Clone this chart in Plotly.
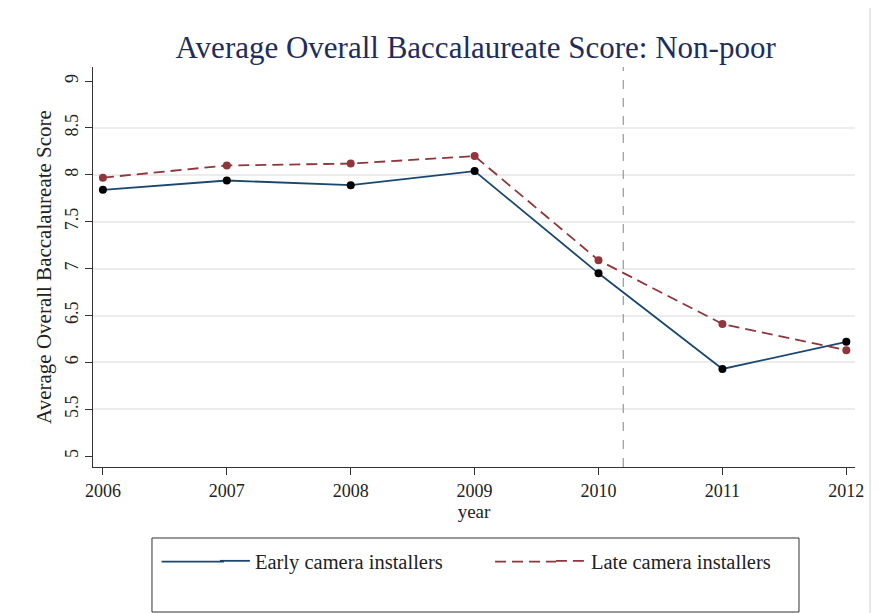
import plotly.graph_objects as go

years = [2006, 2007, 2008, 2009, 2010, 2011, 2012]
early = [7.84, 7.94, 7.89, 8.04, 6.95, 5.93, 6.22]
late = [7.97, 8.10, 8.12, 8.20, 7.09, 6.41, 6.13]
ytick_vals = [5, 5.5, 6, 6.5, 7, 7.5, 8, 8.5, 9]
grid_vals = [5.5, 6, 6.5, 7, 7.5, 8, 8.5]
cutoff_year = 2010.2

serif = "Liberation Serif, Times New Roman, serif"
navy = "#1a476f"
maroon = "#90353b"
dash_style = "11px,6px"

fig = go.Figure()

# invisible helper on a second y axis, only to carry the inner gridlines
fig.add_trace(go.Scatter(x=[years[0]], y=[early[0]], yaxis="y2", mode="markers",
                         marker=dict(opacity=0), showlegend=False, hoverinfo="skip"))

fig.add_trace(go.Scatter(x=years, y=early, mode="lines+markers", showlegend=False,
                         line=dict(color=navy, width=1.8),
                         marker=dict(color="black", size=8)))
fig.add_trace(go.Scatter(x=years, y=late, mode="lines+markers", showlegend=False,
                         line=dict(color=maroon, width=1.8, dash=dash_style),
                         marker=dict(color=maroon, size=8)))

# legend entries show only the line style
fig.add_trace(go.Scatter(x=[None], y=[None], mode="lines", name="Early camera installers",
                         line=dict(color=navy, width=1.8), legendwidth=291))
fig.add_trace(go.Scatter(x=[None], y=[None], mode="lines", name="Late camera installers",
                         line=dict(color=maroon, width=1.8, dash=dash_style)))

fig.add_vline(x=cutoff_year, line=dict(color="#a0a0a0", width=1.3, dash="dash"))

# outer frame (light gray edge) and legend box
fig.add_shape(type="rect", xref="paper", yref="paper",
              x0=-0.1155, x1=1.02, y0=-0.6, y1=1.158,
              line=dict(color="#e4e4e4", width=2), layer="below")
fig.add_shape(type="rect", xref="paper", yref="paper",
              x0=0.0774, x1=0.9265, y0=-0.3625, y1=-0.1775,
              line=dict(color="#333333", width=1))
# longer legend keys, like the original
fig.add_shape(type="line", xref="paper", yref="paper",
              x0=0.09, x1=0.172, y0=-0.2365, y1=-0.2365,
              line=dict(color=navy, width=1.8))
fig.add_shape(type="line", xref="paper", yref="paper",
              x0=0.5276, x1=0.6076, y0=-0.2365, y1=-0.2365,
              line=dict(color=maroon, width=1.8, dash=dash_style))

# page body adds an 8px offset, so margins are shifted to compensate
fig.update_layout(
    width=879, height=613,
    margin=dict(l=85, r=32, t=59, b=154),
    paper_bgcolor="white", plot_bgcolor="white",
    title=dict(text="Average Overall Baccalaureate Score: Non-poor",
               x=0.532, xanchor="center", y=0.936, yanchor="middle",
               font=dict(family=serif, size=31, color="#1e2d5a")),
    font=dict(family=serif, size=18, color="#222222"),
    xaxis=dict(range=[2005.92, 2012.07], tickvals=years,
               showgrid=False, zeroline=False,
               showline=True, linecolor="#333333", linewidth=1.2,
               ticks="outside", ticklen=7, tickcolor="#333333",
               tickfont=dict(size=18),
               title=dict(text="year", font=dict(size=19), standoff=0)),
    yaxis=dict(range=[4.885, 9.15], tickvals=ytick_vals,
               showgrid=False, zeroline=False,
               showline=True, linecolor="#333333", linewidth=1.2,
               ticks="outside", ticklen=7, tickcolor="#333333",
               tickangle=-90, tickfont=dict(size=18),
               title=dict(text="Average Overall Baccalaureate Score",
                          font=dict(size=21), standoff=4)),
    yaxis2=dict(range=[4.885, 9.15], overlaying="y", tickvals=grid_vals,
                showgrid=True, gridcolor="#ececec", gridwidth=1.5,
                showticklabels=False, zeroline=False, showline=False),
    legend=dict(orientation="h", x=0.16, xanchor="left",
                y=-0.185, yanchor="top", bgcolor="rgba(0,0,0,0)",
                font=dict(size=20.5)),
)

fig.write_html("out.html")
